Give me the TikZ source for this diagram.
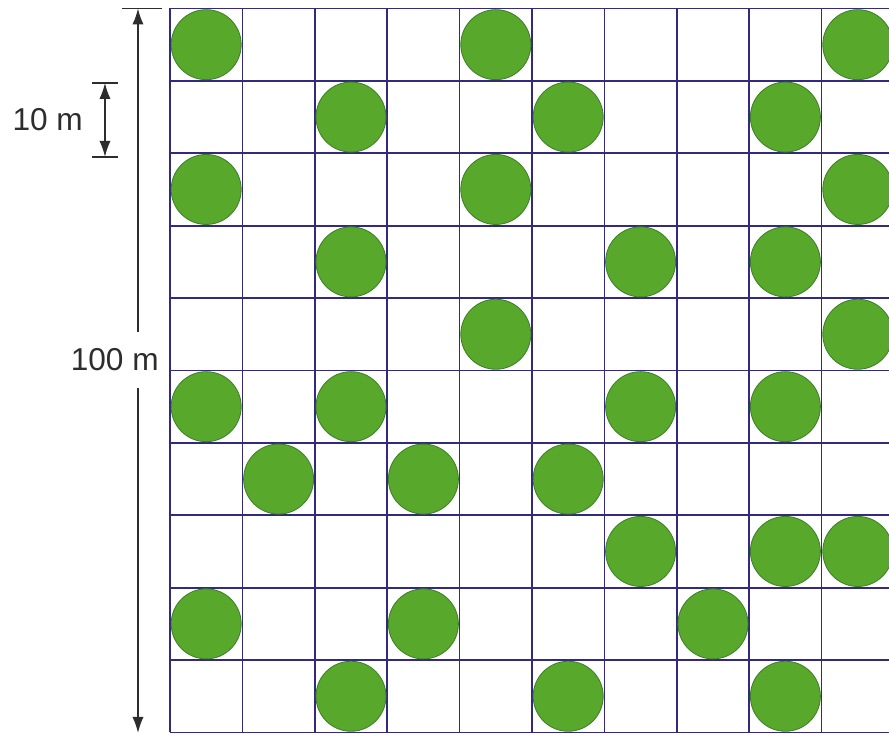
\documentclass[tikz,border=0pt]{standalone}
\usepackage{fontspec}
\setmainfont{Liberation Sans}
\usetikzlibrary{arrows.meta}
\definecolor{treegreen}{RGB}{88,168,44}
\definecolor{treeedge}{RGB}{62,128,40}
\definecolor{gridblue}{RGB}{52,42,125}
\definecolor{dimgray}{RGB}{45,45,45}

\begin{document}
\begin{tikzpicture}[scale=1.81,>={Latex[length=4mm,width=2.8mm]},
  tree/.style={circle,draw=treeedge,fill=treegreen,line width=0.6pt,minimum size=1.75cm,inner sep=0pt},
  dimline/.style={dimgray,line width=1.1pt},
  dimlabel/.style={anchor=east,inner xsep=0pt,text=dimgray,font=\fontsize{22.5}{27}\selectfont}]
\useasboundingbox (-2.348,-0.035) rectangle (9.931,10.117);
\clip (-2.348,-0.035) rectangle (9.931,10.117);
\draw[gridblue,line width=1.2pt] (0,0) grid (10,10);

% trees, row by row from the top
\node[tree] (r0c0) at (0.5,9.5) {};
\node[tree] (r0c4) at (4.5,9.5) {};
\node[tree] (r0c9) at (9.5,9.5) {};
\node[tree] (r1c2) at (2.5,8.5) {};
\node[tree] (r1c5) at (5.5,8.5) {};
\node[tree] (r1c8) at (8.5,8.5) {};
\node[tree] (r2c0) at (0.5,7.5) {};
\node[tree] (r2c4) at (4.5,7.5) {};
\node[tree] (r2c9) at (9.5,7.5) {};
\node[tree] (r3c2) at (2.5,6.5) {};
\node[tree] (r3c6) at (6.5,6.5) {};
\node[tree] (r3c8) at (8.5,6.5) {};
\node[tree] (r4c4) at (4.5,5.5) {};
\node[tree] (r4c9) at (9.5,5.5) {};
\node[tree] (r5c0) at (0.5,4.5) {};
\node[tree] (r5c2) at (2.5,4.5) {};
\node[tree] (r5c6) at (6.5,4.5) {};
\node[tree] (r5c8) at (8.5,4.5) {};
\node[tree] (r6c1) at (1.5,3.5) {};
\node[tree] (r6c3) at (3.5,3.5) {};
\node[tree] (r6c5) at (5.5,3.5) {};
\node[tree] (r7c6) at (6.5,2.5) {};
\node[tree] (r7c8) at (8.5,2.5) {};
\node[tree] (r7c9) at (9.5,2.5) {};
\node[tree] (r8c0) at (0.5,1.5) {};
\node[tree] (r8c3) at (3.5,1.5) {};
\node[tree] (r8c7) at (7.5,1.5) {};
\node[tree] (r9c2) at (2.5,0.5) {};
\node[tree] (r9c5) at (5.5,0.5) {};
\node[tree] (r9c8) at (8.5,0.5) {};

% 100 m
\coordinate (top100) at (-0.442,10);
\coordinate (bot100) at (-0.442,-0.007);
\node[dimlabel,inner ysep=11.5pt] (lbl100) at (-0.152,5.145) {100 m};
\draw[dimline] ([xshift=-0.22cm]top100) -- ([xshift=0.33cm]top100);
\draw[dimline,->] (lbl100.north -| top100) -- (top100);
\draw[dimline,->] (lbl100.south -| top100) -- (bot100);

% 10 m
\coordinate (top10) at (-0.898,8.971);
\coordinate (bot10) at (-0.898,7.949);
\draw[dimline] ([xshift=-0.18cm]top10) -- ([xshift=0.18cm]top10);
\draw[dimline] ([xshift=-0.18cm]bot10) -- ([xshift=0.18cm]bot10);
\draw[dimline,<->] (top10) -- (bot10);
\node[dimlabel] (lbl10) at (-1.2,8.46) {10 m};
\end{tikzpicture}
\end{document}
